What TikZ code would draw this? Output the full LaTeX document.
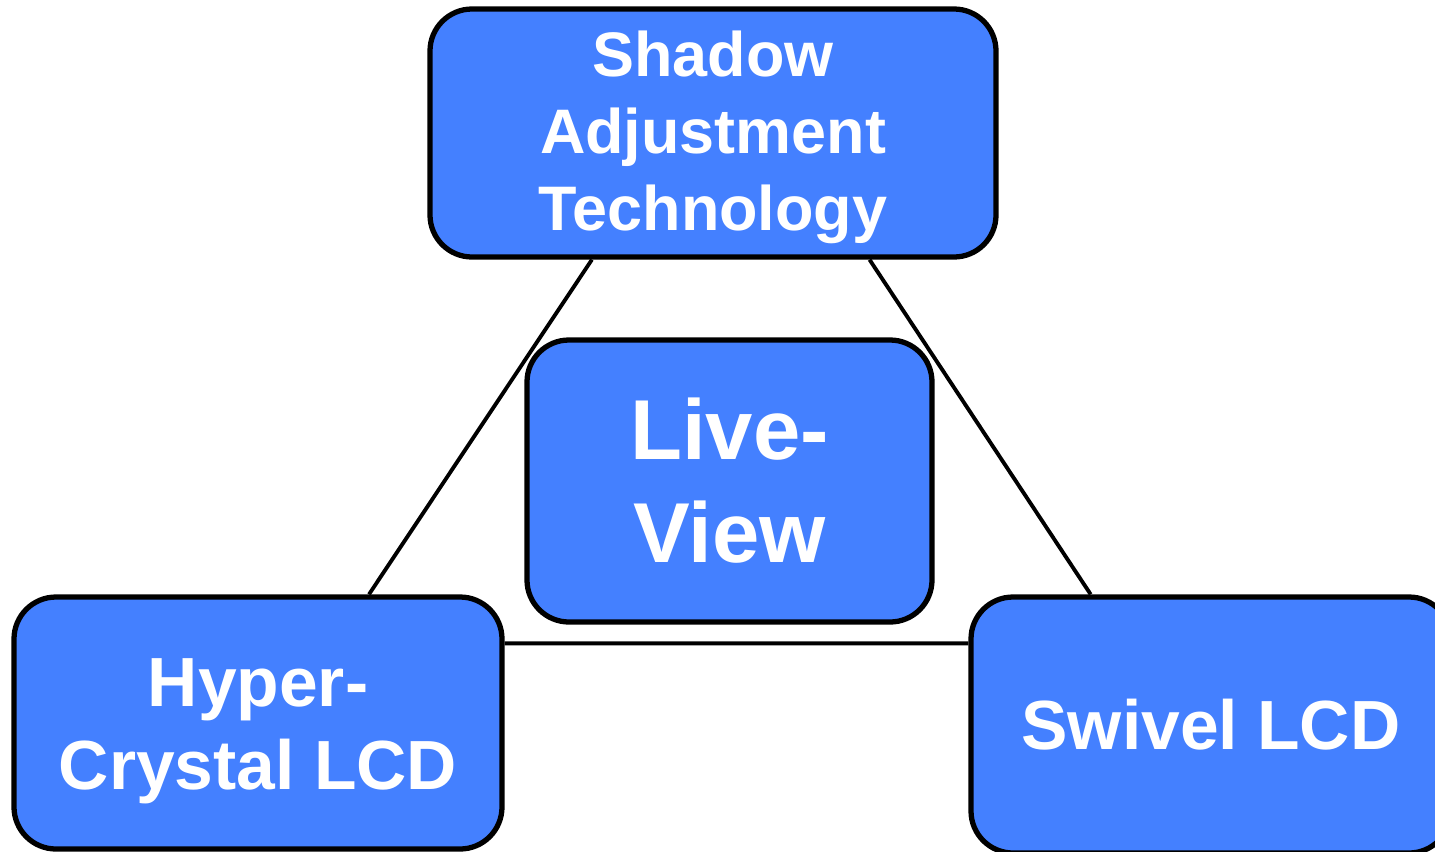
\documentclass[tikz,border=0pt]{standalone}
\usepackage{fontspec}
\setmainfont{Liberation Sans}
\usetikzlibrary{calc}
\definecolor{boxblue}{HTML}{4480FF}

\tikzset{
    box/.style={draw=black, line width=1.5pt, fill=boxblue, rounded corners=0.42cm,
        text=white, align=center, inner sep=0pt},
    link/.style={draw=black, line width=1.1pt},
}

\begin{document}
\begin{tikzpicture}
    \useasboundingbox (0, 0) rectangle (14.35, -8.51);
    \node[box, minimum width=5.66cm, minimum height=2.48cm,
        font=\bfseries\fontsize{17.9}{21.8}\selectfont] (shadow) at (7.13, -1.33)
        {\rule{0pt}{15.5pt}Shadow\\Adjustment\\Technology};
    \node[box, minimum width=4.05cm, minimum height=2.82cm,
        font=\bfseries\fontsize{24.2}{29.3}\selectfont] (live) at (7.295, -4.81)
        {Live-\\View};
    \node[box, minimum width=4.88cm, minimum height=2.52cm,
        font=\bfseries\fontsize{19.8}{23.6}\selectfont] (hyper) at (2.58, -7.23)
        {\rule{0pt}{18.5pt}Hyper-\\Crystal LCD};
    \node[box, minimum width=4.80cm, minimum height=2.56cm,
        font=\bfseries\fontsize{19.8}{23.6}\selectfont] (swivel) at (12.11, -7.25)
        {Swivel LCD};
    \draw[link] ($(shadow.south west)!0.288!(shadow.south east)$) -- ($(hyper.north west)!0.725!(hyper.north east)$);
    \draw[link] ($(shadow.south west)!0.774!(shadow.south east)$) -- ($(swivel.north west)!0.252!(swivel.north east)$);
    \draw[link] ($(hyper.north east)+(0, -0.49)$) -- ($(swivel.north west)+(0, -0.49)$);
\end{tikzpicture}
\end{document}
